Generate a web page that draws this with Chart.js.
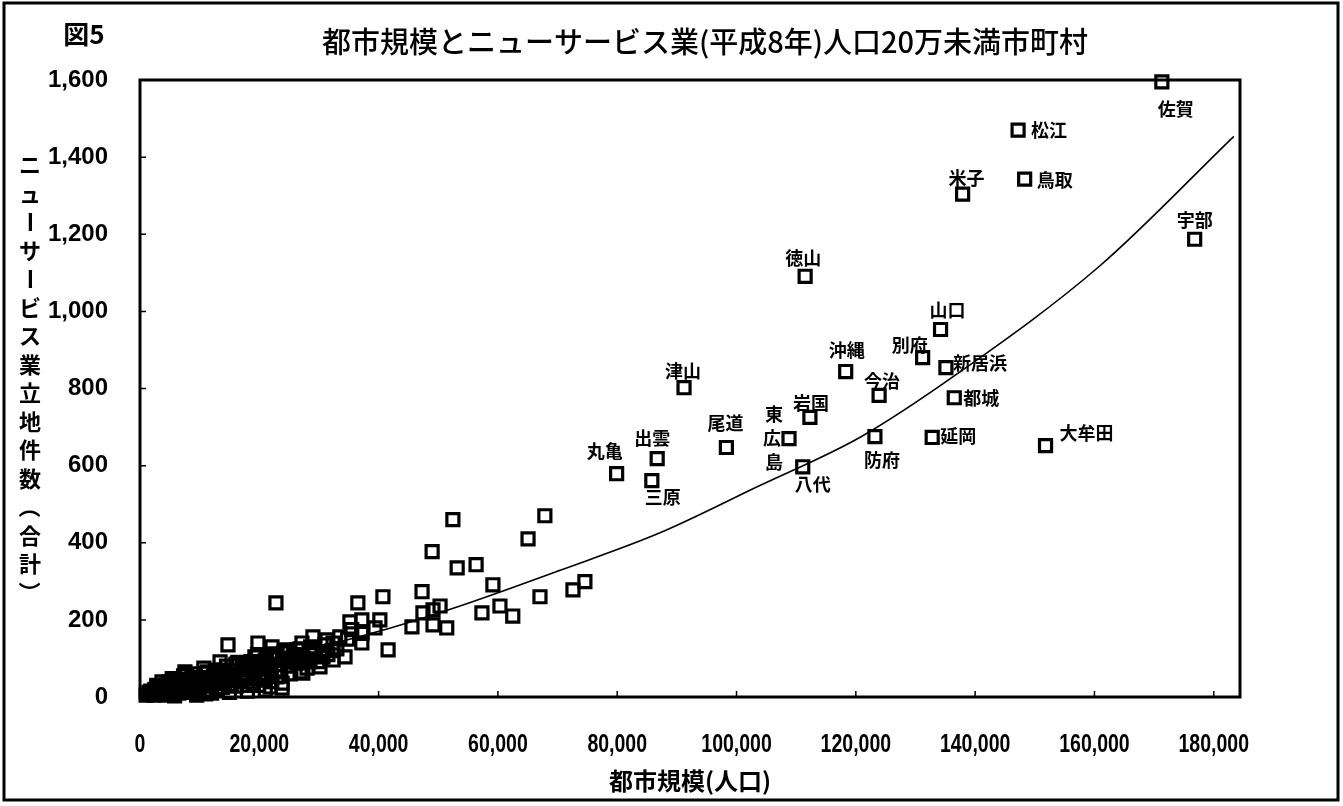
<!DOCTYPE html>
<html>
<head>
<meta charset="utf-8">
<script src="https://cdn.jsdelivr.net/npm/chart.js@4"></script>
<style>
  html, body { margin: 0; padding: 0; background: #fff; }
  canvas { display: block; }
</style>
</head>
<body>
<canvas id="chart" width="1343" height="806"></canvas>
<script>
// labelled cities
const cityNames = ['佐賀', '松江', '鳥取', '米子', '宇部', '徳山', '山口', '別府', '新居浜', '沖縄', '津山', '今治',
  '都城', '岩国', '東広島', '延岡', '防府', '大牟田', '尾道', '八代', '出雲', '丸亀', '三原'];
const cityPop = [171300, 147200, 148300, 137900, 176800, 111500, 134200, 131200, 135100, 118300, 91200, 123900,
  136500, 112300, 108800, 132800, 123200, 151800, 98300, 111100, 86700, 79900, 85800];
const cityCount = [1595, 1470, 1343, 1304, 1187, 1091, 953, 880, 854, 844, 802, 782,
  776, 725, 670, 673, 675, 652, 647, 597, 618, 579, 561];

// other municipalities (unlabelled)
const otherPop = [52450, 67870, 48970, 65050, 53170, 56340, 59160, 74580, 72580, 67050, 47280, 60340, 57320, 62490,
  50300, 49120, 47430, 45590, 49120, 51420, 40720, 36520, 35190, 40210, 37190, 33500, 37190, 39390, 37190, 41590,
  28990, 31350, 32370, 30680, 34370, 32370, 30170, 26330, 26840, 27300, 22790, 14750, 19770, 22130, 24590, 27150,
  13420, 7530, 3690, 1020, 23820, 19260, 17930, 20590, 26840, 22950, 21820, 23820,
  1500, 2000, 2500, 3000, 3300, 3800, 4000, 4500, 5000, 5200, 5600, 6000, 6300, 6800, 7000, 7300, 7700, 8000,
  8300, 8800, 9000, 9400, 9800, 10200, 10500, 10900, 11200, 11500, 11900, 12300, 12600, 13000, 13400, 13800,
  14200, 14500, 14900, 15300, 15600, 16000, 16400, 16800, 17200, 17600, 18000, 18400, 18900, 19300, 19700,
  20200, 20600, 21000, 21500, 22000, 22500, 23000, 23600, 24100, 24600, 25200, 25700, 26300, 26800, 27400,
  28000, 28600, 29200, 29800, 30500, 31000, 9500, 12000, 15000, 18000, 21000, 5800, 11000,
  4200, 6500, 8500, 10000, 12800, 14000, 16200, 17000, 19000, 20800, 22800, 24800, 27000, 29000, 31500, 33000,
  34800, 37200, 2800, 5400, 7800, 10700, 13600, 16600, 19600, 22300, 25500, 28500, 32200, 35500,
  1800, 3500, 4800, 6200, 7500, 8700, 9900, 11300, 12500, 13700, 14800, 16100, 17300, 18600, 19900,
  21200, 22600, 23900, 25000, 26100, 2300, 4400, 6600, 8900, 11100, 13300, 15500, 17700, 19900, 22100];
const otherCount = [460, 470, 377, 410, 335, 343, 291, 299, 278, 260, 273, 236, 218, 210,
  236, 226, 218, 182, 187, 179, 260, 244, 195, 200, 200, 156, 169, 179, 140, 122,
  156, 148, 140, 104, 104, 96, 78, 122, 96, 62, 244, 135, 140, 130, 122, 140,
  91, 65, 39, 5, 36, 104, 78, 44, 65, 52, 26, 23,
  12, 8, 20, 15, 28, 10, 22, 35, 18, 8, 30, 25, 12, 40, 20, 55, 32, 15,
  45, 28, 60, 38, 22, 50, 35, 18, 62, 42, 28, 55, 70, 38, 48, 25,
  60, 80, 45, 32, 68, 52, 90, 40, 75, 58, 30, 85, 65, 48, 110,
  72, 55, 95, 80, 62, 105, 85, 70, 115, 95, 60, 110, 88, 125, 100,
  75, 130, 110, 92, 118, 135, 5, 10, 12, 15, 18, 3, 8,
  5, 10, 20, 30, 22, 45, 28, 58, 38, 48, 65, 80, 90, 118, 110, 125,
  150, 165, 30, 48, 58, 75, 65, 82, 92, 110, 100, 92, 120, 175,
  15, 25, 40, 35, 45, 50, 42, 65, 48, 70, 58, 85, 62, 92, 88,
  100, 112, 98, 118, 108, 5, 12, 18, 12, 30, 35, 45, 50, 30, 40];

// trend curve
const trendPop = [1020, 10240, 20490, 30730, 42000, 53270, 70680, 87070, 103460, 120880, 137270, 160830, 183370];
const trendCount = [20, 55, 92, 132, 179, 234, 330, 425, 545, 675, 841, 1117, 1454];

const xTicks = [0, 20000, 40000, 60000, 80000, 100000, 120000, 140000, 160000, 180000];
const yTicks = [0, 200, 400, 600, 800, 1000, 1200, 1400, 1600];

const titleText = '都市規模とニューサービス業(平成8年)人口20万未満市町村';
const figLabel = '図5';
const xTitle = '都市規模(人口)';
const yTitle = 'ニューサービス業立地件数（合計）';

// label placement around each square (dx, dy, align)
const labelPos = {
  '佐賀': [14, 27, 'center'], '松江': [13, 0, 'left'], '鳥取': [12, 1, 'left'], '米子': [4, -16, 'center'],
  '宇部': [0, -19, 'center'], '徳山': [-2, -18, 'center'], '山口': [7, -19, 'center'], '別府': [-13, -12, 'center'],
  '新居浜': [7, -5, 'left'], '沖縄': [1, -21, 'center'], '津山': [-1, -17, 'center'], '今治': [3, -14, 'center'],
  '都城': [9, 0, 'left'], '岩国': [1, -14, 'center'], '延岡': [8, -1, 'left'], '防府': [7, 23, 'center'],
  '大牟田': [14, -12, 'left'], '尾道': [-1, -24, 'center'], '八代': [10, 17, 'center'], '出雲': [-5, -21, 'center'],
  '丸亀': [-12, -23, 'center'], '三原': [11, 16, 'center']
};

const jp = '"Noto Sans CJK JP", "Noto Sans", sans-serif';

const decor = {
  id: 'decor',
  afterDraw(chart) {
    const { ctx, chartArea: a, scales: { x, y } } = chart;
    ctx.save();
    ctx.strokeStyle = '#000';
    ctx.fillStyle = '#000';

    // plot frame and inner tick marks
    ctx.lineWidth = 3;
    ctx.strokeRect(a.left, a.top, a.right - a.left, a.bottom - a.top);
    ctx.lineWidth = 1.5;
    ctx.beginPath();
    yTicks.forEach(v => {
      const py = y.getPixelForValue(v);
      ctx.moveTo(a.left, py); ctx.lineTo(a.left + 6, py);
    });
    xTicks.forEach(v => {
      const px = x.getPixelForValue(v);
      ctx.moveTo(px, a.bottom); ctx.lineTo(px, a.bottom - 6);
    });
    ctx.stroke();

    // outer frame
    ctx.lineWidth = 3;
    ctx.strokeRect(4, 3, 1334, 797);

    // x tick labels, condensed like the original
    ctx.textBaseline = 'middle';
    ctx.textAlign = 'center';
    ctx.font = 'bold 25px "Liberation Sans", Arial, sans-serif';
    xTicks.forEach(v => {
      ctx.save();
      ctx.translate(x.getPixelForValue(v), 745);
      ctx.scale(0.78, 1);
      ctx.fillText(v.toLocaleString('en-US'), 0, 0);
      ctx.restore();
    });

    // titles
    ctx.font = '500 29px ' + jp;
    ctx.fillText(titleText, 705, 42);
    ctx.font = 'bold 26px ' + jp;
    ctx.fillText(figLabel, 84, 34);

    // vertical y title
    ctx.font = 'bold 22px ' + jp;
    Array.from(yTitle).forEach((ch, i) => {
      const cy = 165 + i * 28.5;
      if ('ー（）'.includes(ch)) {
        ctx.save();
        ctx.translate(30, cy);
        ctx.rotate(Math.PI / 2);
        ctx.fillText(ch, 0, 0);
        ctx.restore();
      } else {
        ctx.fillText(ch, 30, cy);
      }
    });

    // city labels
    ctx.font = 'bold 18px ' + jp;
    cityNames.forEach((name, i) => {
      const px = x.getPixelForValue(cityPop[i]);
      const py = y.getPixelForValue(cityCount[i]);
      if (name === '東広島') {
        ctx.textAlign = 'center';
        ctx.fillText('東', px - 15, py - 24);
        ctx.fillText('広', px - 17, py);
        ctx.fillText('島', px - 15, py + 24);
        return;
      }
      const [dx, dy, al] = labelPos[name];
      ctx.textAlign = al;
      ctx.fillText(name, px + dx, py + dy);
    });
    ctx.restore();
  }
};

const toPts = (xs, ys) => xs.map((v, i) => ({ x: v, y: ys[i] }));
const squareStyle = {
  pointStyle: 'rect',
  pointRadius: 8.5,
  pointBorderWidth: 3.2,
  pointBorderColor: '#000',
  pointBackgroundColor: 'rgba(0,0,0,0)',
  showLine: false,
  clip: false
};

new Chart(document.getElementById('chart'), {
  type: 'scatter',
  data: {
    datasets: [
      {
        type: 'line',
        data: toPts(trendPop, trendCount),
        borderColor: '#000',
        borderWidth: 1.6,
        pointRadius: 0,
        fill: false,
        cubicInterpolationMode: 'monotone'
      },
      { data: toPts(otherPop, otherCount), ...squareStyle },
      { data: toPts(cityPop, cityCount), ...squareStyle }
    ]
  },
  options: {
    responsive: false,
    animation: false,
    events: [],
    layout: { padding: { left: 0, right: 103, top: 80, bottom: 0 } },
    plugins: { legend: { display: false }, tooltip: { enabled: false }, title: { display: false } },
    scales: {
      x: {
        type: 'linear',
        min: 0, max: 184400,
        afterFit: s => { s.height = 109; },
        afterBuildTicks: s => { s.ticks = xTicks.map(v => ({ value: v })); },
        grid: { display: false, drawTicks: false },
        border: { display: false },
        ticks: { display: false },
        title: {
          display: true,
          text: xTitle,
          color: '#000',
          padding: { top: 0, bottom: 11 },
          font: { family: jp, size: 24, weight: 'bold' }
        }
      },
      y: {
        min: 0, max: 1600,
        afterFit: s => { s.width = 140; },
        afterBuildTicks: s => { s.ticks = yTicks.map(v => ({ value: v })); },
        grid: { display: false, drawTicks: false },
        border: { display: false },
        ticks: {
          padding: 32,
          color: '#000',
          font: { family: '"Liberation Sans", Arial, sans-serif', size: 24, weight: 'bold' },
          callback: v => v.toLocaleString('en-US')
        }
      }
    }
  },
  plugins: [decor]
});
</script>
</body>
</html>
